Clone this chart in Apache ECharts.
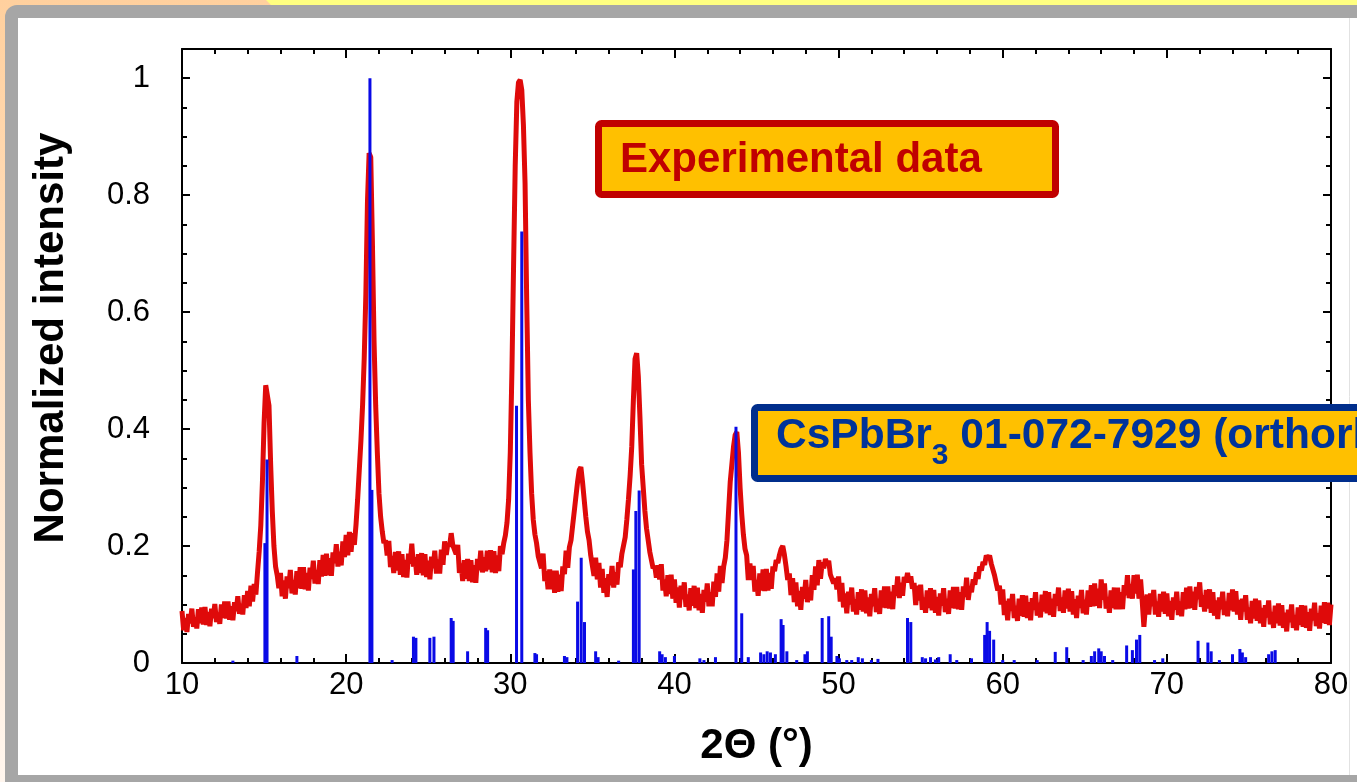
<!DOCTYPE html>
<html><head><meta charset="utf-8">
<script src="https://cdn.jsdelivr.net/npm/echarts@6/dist/echarts.min.js"></script>
<style>html,body{margin:0;padding:0;background:#fff;}#c{width:1357px;height:782px;}</style>
</head><body><div id="c"></div>
<script>
// Experimental XRD pattern: measured every 0.1 deg of 2theta from 10 to 80 (normalized intensity)
const twoThetaStart = 10;
const twoThetaStep = 0.1;
const intensity = [
.089,.056,.077,.053,.084,.068,.093,.062,.078,.059,
.092,.068,.095,.066,.096,.065,.087,.063,.093,.077,
.101,.070,.086,.067,.100,.077,.105,.076,.105,.074,
.097,.073,.104,.089,.114,.084,.101,.083,.116,.094,
.123,.097,.132,.105,.135,.117,.155,.19,.235,.31,
.41,.475,.478,.44,.34,.26,.20,.165,.150,.128,
.154,.114,.141,.110,.148,.128,.159,.119,.142,.117,
.157,.128,.164,.127,.164,.126,.154,.124,.163,.144,
.175,.136,.159,.135,.176,.148,.185,.149,.187,.150,
.179,.149,.189,.171,.203,.165,.190,.167,.208,.181,
.219,.184,.224,.190,.222,.202,.236,.28,.33,.38,
.44,.52,.63,.79,.872,.865,.72,.55,.44,.36,
.29,.25,.225,.205,.210,.184,.209,.164,.183,.154,
.190,.158,.191,.151,.186,.147,.176,.146,.187,.170,
.204,.165,.181,.151,.186,.154,.188,.150,.186,.147,
.175,.143,.182,.162,.192,.153,.177,.153,.194,.168,
.208,.185,.205,.199,.222,.201,.203,.186,.202,.154,
.170,.140,.176,.144,.178,.140,.176,.138,.167,.137,
.178,.159,.192,.155,.181,.157,.192,.160,.193,.155,
.191,.154,.184,.157,.200,.186,.205,.218,.24,.28,
.36,.50,.68,.85,.96,.993,.997,.98,.92,.82,
.62,.45,.36,.29,.245,.22,.205,.183,.182,.162,
.187,.140,.157,.126,.160,.126,.158,.120,.158,.122,
.151,.123,.165,.152,.192,.163,.198,.210,.235,.26,
.285,.31,.33,.335,.31,.28,.25,.225,.210,.184,
.183,.149,.180,.143,.171,.129,.161,.120,.145,.113,
.152,.133,.166,.129,.155,.134,.172,.164,.187,.190,
.215,.245,.28,.32,.37,.45,.52,.53,.49,.42,
.34,.30,.26,.23,.21,.19,.190,.162,.166,.146,
.167,.143,.169,.124,.143,.114,.150,.118,.151,.110,
.143,.103,.129,.095,.132,.109,.138,.096,.117,.090,
.128,.098,.132,.094,.129,.090,.118,.086,.125,.105,
.136,.097,.121,.097,.139,.113,.153,.122,.166,.137,
.165,.18,.21,.26,.31,.34,.37,.39,.395,.36,
.30,.255,.22,.195,.184,.142,.170,.142,.166,.122,
.142,.115,.153,.124,.160,.123,.161,.124,.154,.127,
.165,.157,.176,.171,.185,.195,.20,.185,.165,.142,
.153,.116,.145,.104,.138,.097,.123,.091,.130,.110,
.142,.104,.129,.107,.150,.125,.165,.133,.176,.144,
.172,.162,.178,.168,.175,.151,.152,.136,.145,.126,
.148,.105,.137,.095,.119,.085,.122,.100,.129,.088,
.109,.083,.121,.091,.126,.088,.124,.085,.112,.080,
.118,.097,.128,.087,.110,.084,.124,.095,.131,.094,
.131,.093,.122,.092,.133,.115,.148,.111,.137,.115,
.147,.138,.154,.138,.148,.127,.137,.099,.132,.107,
.134,.091,.112,.086,.124,.094,.128,.090,.125,.086,
.113,.081,.119,.098,.128,.087,.110,.084,.124,.094,
.130,.093,.130,.092,.121,.091,.131,.113,.146,.108,
.130,.121,.143,.134,.155,.144,.165,.158,.173,.168,
.184,.178,.184,.170,.168,.150,.152,.124,.132,.100,
.126,.082,.106,.073,.110,.089,.118,.077,.098,.072,
.110,.081,.116,.079,.115,.077,.104,.073,.111,.091,
.121,.081,.103,.078,.117,.088,.123,.085,.121,.082,
.110,.079,.118,.098,.129,.089,.112,.086,.124,.093,
.127,.088,.123,.083,.109,.077,.115,.094,.125,.085,
.108,.083,.124,.096,.133,.097,.136,.098,.127,.094,
.143,.108,.136,.093,.113,.086,.124,.094,.129,.092,
.129,.092,.121,.092,.133,.116,.150,.111,.135,.110,
.150,.119,.151,.110,.143,.105,.062,.098,.117,.083,
.119,.097,.125,.083,.105,.079,.118,.088,.122,.084,
.119,.080,.106,.074,.112,.091,.122,.082,.105,.080,
.121,.092,.129,.093,.131,.094,.122,.091,.130,.109,
.138,.096,.116,.088,.125,.093,.126,.086,.121,.081,
.107,.075,.112,.092,.122,.082,.105,.080,.120,.090,
.126,.088,.123,.083,.108,.074,.110,.088,.116,.074,
.095,.068,.106,.076,.110,.072,.107,.068,.094,.062,
.099,.078,.107,.066,.087,.060,.098,.068,.102,.064,
.099,.060,.086,.054,.091,.070,.100,.060,.082,.056,
.095,.065,.099,.062,.098,.060,.087,.055,.093,.073,
.103,.063,.085,.059,.098,.069,.104,.067,.103,.065,
.100
];

// Reference pattern CsPbBr3 01-072-7929 [2theta, relative intensity]
const reference = [
[13.1,.004],[15.05,.205],[15.18,.348],[17.0,.012],[21.45,1.0],[21.57,.296],[22.8,.005],[24.1,.045],[24.25,.043],
[25.1,.043],[25.35,.045],[26.4,.077],[26.52,.072],[27.4,.02],[28.5,.06],[28.62,.056],[30.38,.44],[30.7,.738],
[31.5,.017],[31.6,.015],[33.3,.012],[33.45,.01],[34.1,.105],[34.32,.18],[34.52,.07],[35.2,.02],[35.35,.01],[36.6,.004],
[37.5,.16],[37.65,.26],[37.85,.295],[39.1,.02],[39.25,.015],[39.45,.01],[40.0,.012],[41.55,.008],[41.8,.005],[42.5,.01],
[43.75,.404],[44.1,.085],[44.5,.01],[45.25,.018],[45.45,.015],[45.65,.02],[45.85,.018],[46.15,.015],[46.5,.075],[46.62,.065],
[46.85,.02],[47.45,.005],[47.95,.015],[48.1,.02],[49.0,.077],[49.4,.08],[49.55,.045],[49.9,.012],[50.05,.008],[50.5,.005],
[50.8,.005],[51.2,.01],[51.45,.008],[52.0,.005],[52.4,.007],[54.2,.077],[54.4,.07],[55.1,.01],[55.3,.008],[55.6,.01],
[55.9,.006],[56.1,.01],[56.8,.015],[57.2,.005],[58.1,.008],[58.9,.048],[59.05,.07],[59.2,.055],[59.45,.04],[60.0,.005],
[60.7,.005],[62.1,.005],[63.2,.019],[63.9,.027],[64.9,.005],[65.4,.012],[65.6,.02],[65.85,.025],[66.0,.02],[66.2,.012],
[66.7,.005],[67.55,.03],[67.9,.022],[68.15,.04],[68.35,.048],[69.25,.005],[69.75,.008],[71.9,.038],[72.5,.035],[72.7,.02],
[73.2,.005],[74.0,.015],[74.45,.024],[74.6,.018],[74.8,.01],[76.2,.015],[76.4,.02],[76.6,.022]
];

const xRange = [10, 80];
const yRange = [0, 1.05];
const xTitle = '2\u0398 (\u00B0)';
const yTitle = 'Normalized intensity';
const expLabel = 'Experimental data';
const refLabel = ['CsPbBr', '3', ' 01-072-7929 (orthorhombic)'];

const experimental = intensity.map(function (v, i) {
  return [+(twoThetaStart + i * twoThetaStep).toFixed(2), v];
});

const F = '"Liberation Sans", Arial, sans-serif';
const chart = echarts.init(document.getElementById('c'), null, {renderer: 'canvas'});

function yAx(pos, interval, len, labels, line) {
  return {
    type: 'value', position: pos, min: yRange[0], max: yRange[1], interval: interval,
    axisLine: {show: line, onZero: false, lineStyle: {color: '#000', width: 2}},
    axisTick: {show: true, inside: true, length: len, lineStyle: {color: '#000', width: 2}},
    splitLine: {show: false},
    axisLabel: labels ? {
      show: true, fontSize: 31, color: '#000', fontFamily: F, margin: 32,
      formatter: function (v) { const k = v / 0.2; return Math.abs(k - Math.round(k)) < 1e-6 ? String(+v.toFixed(1)) : ''; }
    } : {show: false}
  };
}
function xAx(pos, labels) {
  const a = {
    type: 'value', position: pos, min: xRange[0], max: xRange[1], interval: 10,
    axisLine: {show: true, onZero: false, lineStyle: {color: '#000', width: 2}},
    axisTick: {show: true, inside: true, length: 9, lineStyle: {color: '#000', width: 2}},
    minorTick: {show: true, splitNumber: 5, length: 5, lineStyle: {color: '#000', width: 2}},
    splitLine: {show: false}, minorSplitLine: {show: false},
    axisLabel: labels ? {show: true, fontSize: 31, color: '#000', fontFamily: F, margin: 7} : {show: false}
  };
  if (labels) {
    a.name = xTitle; a.nameLocation = 'middle'; a.nameGap = 62;
    a.nameTextStyle = {fontSize: 42, fontWeight: 'bold', color: '#000', fontFamily: F};
  }
  return a;
}

const option = {
  animation: false,
  backgroundColor: '#ffffff',
  grid: {left: 182, right: 26, top: 49, bottom: 119, containLabel: false},
  xAxis: [xAx('bottom', true), xAx('top', false)],
  yAxis: [yAx('left', 0.2, 8, true, true), yAx('left', 0.05, 5, false, false),
          yAx('right', 0.2, 8, false, true), yAx('right', 0.05, 5, false, false)],
  graphic: [
    {type: 'rect', z: -100, silent: true, shape: {x: 0, y: 0, width: 1357, height: 782}, style: {fill: '#FFFF80'}},
    {type: 'polygon', z: -99, silent: true, shape: {points: [[0,0],[266,0],[278,12],[278,782],[0,782]]},
      style: {fill: new echarts.graphic.LinearGradient(0, 0, 0, 1, [{offset: 0, color: '#FFD09E'}, {offset: 1, color: '#FFF6EE'}])}},
    {type: 'rect', z: -98, silent: true, shape: {x: 5, y: 5, width: 1420, height: 800, r: 12}, style: {fill: '#A6A6A6'}},
    {type: 'rect', z: -97, silent: true, shape: {x: 18, y: 18, width: 1420, height: 757}, style: {fill: '#FFFFFF'}},
    {type: 'line', z: -96, silent: true, shape: {x1: 1349.5, y1: 18, x2: 1349.5, y2: 775}, style: {stroke: '#E2E2E2', lineWidth: 1}},
    {type: 'text', z: 50, style: {x: 51, y: 338, text: yTitle, font: 'bold 42px ' + F, fill: '#000', align: 'center', verticalAlign: 'middle'},
      rotation: Math.PI / 2, x: 0, y: 0, originX: 51, originY: 338},
    {type: 'rect', z: 100, shape: {x: 598.5, y: 123.5, width: 457, height: 71, r: 3}, style: {fill: '#FFC000', stroke: '#C00000', lineWidth: 7}},
    {type: 'text', z: 101, style: {x: 620, y: 160, text: expLabel, font: 'bold 42px ' + F, fill: '#C00000', align: 'left', verticalAlign: 'middle'}},
    {type: 'rect', z: 100, shape: {x: 754.5, y: 407.5, width: 700, height: 71, r: 3}, style: {fill: '#FFC000', stroke: '#002E8C', lineWidth: 7}},
    {type: 'text', z: 101, style: {x: 776, y: 415, text: '{a|' + refLabel[0] + '}{s|' + refLabel[1] + '}{a|' + refLabel[2] + '}',
      fill: '#003399', align: 'left', verticalAlign: 'top',
      rich: {a: {fontSize: 42.5, fontWeight: 'bold', fontFamily: F, fill: '#003399', lineHeight: 56, verticalAlign: 'top'},
             s: {fontSize: 30, fontWeight: 'bold', fontFamily: F, fill: '#003399', lineHeight: 30, verticalAlign: 'bottom'}}}}
  ],
  series: [
    {type: 'line', xAxisIndex: 0, yAxisIndex: 0, data: experimental, showSymbol: false, symbol: 'none',
      lineStyle: {color: '#DF0A0A', width: 5}, z: 2},
    {type: 'bar', xAxisIndex: 0, yAxisIndex: 0, data: reference, barWidth: 3,
      itemStyle: {color: '#0A0AE6'}, z: 3}
  ]
};
chart.setOption(option);
</script>
</body></html>
